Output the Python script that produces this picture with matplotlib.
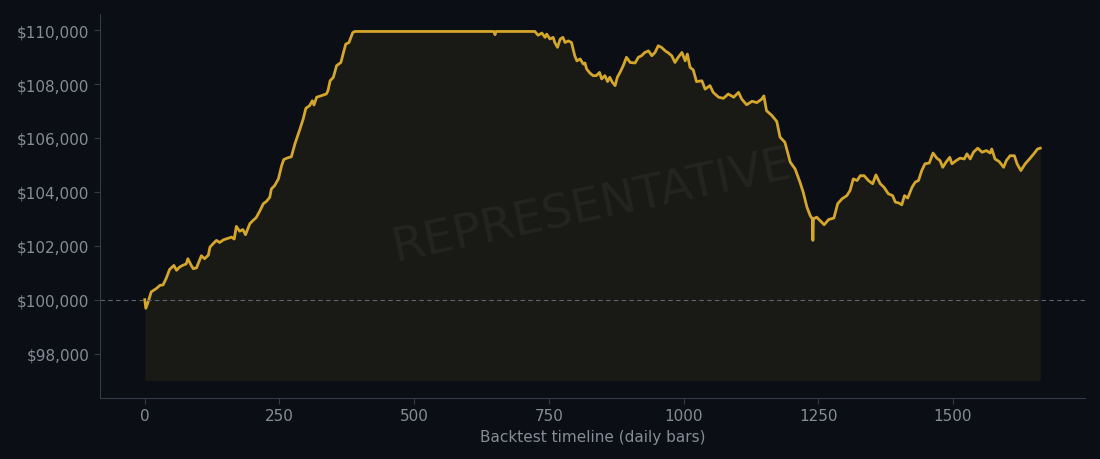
import matplotlib
matplotlib.use("Agg")
import matplotlib.pyplot as plt
from matplotlib.ticker import FuncFormatter

# Bar index (daily bars) and equity values
bars = [0, 2, 6, 12, 22, 28, 34, 40, 46, 54, 59, 64, 69, 77, 80, 86, 90, 96,
        105, 111, 118, 121, 127, 133, 139, 146, 152, 161, 166, 170, 176, 182,
        187, 195, 201, 207, 214, 220, 226, 232, 235, 241, 248, 254, 258, 265,
        272, 279, 288, 294, 299, 306, 311, 314, 319, 328, 337, 340, 344, 350,
        356, 364, 368, 373, 379, 386, 390, 648, 650, 652, 724, 730, 737, 743,
        746, 752, 758, 761, 766, 771, 776, 780, 786, 792, 798, 802, 808, 814,
        817, 820, 826, 832, 838, 844, 848, 854, 859, 863, 868, 873, 877, 882,
        888, 894, 901, 910, 916, 922, 928, 935, 941, 947, 953, 959, 966, 972,
        978, 984, 990, 997, 1003, 1007, 1012, 1018, 1024, 1034, 1040, 1049,
        1055, 1065, 1074, 1083, 1093, 1102, 1108, 1117, 1127, 1136, 1145, 1149,
        1154, 1164, 1173, 1179, 1188, 1198, 1207, 1216, 1222, 1229, 1235, 1239,
        1240, 1241, 1247, 1253, 1261, 1269, 1279, 1286, 1294, 1303, 1309, 1315,
        1322, 1328, 1335, 1343, 1351, 1357, 1365, 1372, 1380, 1388, 1393, 1399,
        1405, 1410, 1416, 1424, 1430, 1436, 1442, 1448, 1456, 1463, 1470, 1476,
        1481, 1487, 1494, 1498, 1506, 1513, 1521, 1526, 1532, 1538, 1546, 1554,
        1562, 1569, 1572, 1578, 1586, 1594, 1599, 1606, 1614, 1619, 1626, 1634,
        1642, 1650, 1657, 1662]

equity = [100000, 99680, 99900, 100290, 100420, 100530, 100550, 100800, 101120,
          101270, 101090, 101200, 101260, 101330, 101520, 101280, 101150, 101180,
          101630, 101520, 101650, 101950, 102080, 102200, 102120, 102220, 102260,
          102320, 102250, 102720, 102540, 102600, 102410, 102820, 102940, 103050,
          103310, 103560, 103650, 103800, 104110, 104230, 104480, 104970, 105200,
          105260, 105300, 105800, 106330, 106700, 107100, 107200, 107380, 107220,
          107510, 107570, 107630, 107750, 108120, 108250, 108680, 108800, 109110,
          109480, 109540, 109910, 109950, 109950, 109830, 109950, 109950, 109810,
          109890, 109730, 109850, 109670, 109730, 109540, 109360, 109670, 109730,
          109540, 109600, 109540, 109050, 108860, 108930, 108740, 108780, 108560,
          108410, 108310, 108310, 108430, 108190, 108310, 108090, 108250, 108060,
          107940, 108250, 108430, 108680, 108990, 108800, 108780, 108990, 109050,
          109170, 109230, 109050, 109170, 109420, 109360, 109230, 109150, 109050,
          108800, 108990, 109170, 108860, 109110, 108620, 108520, 108090, 108120,
          107810, 107940, 107690, 107510, 107470, 107630, 107510, 107690, 107440,
          107230, 107360, 107310, 107440, 107560, 107010, 106830, 106610, 106030,
          105840, 105100, 104850, 104360, 103990, 103430, 103120, 103000, 102200,
          103000, 103060, 102940, 102780, 102970, 103030, 103560, 103740, 103860,
          104050, 104480, 104420, 104600, 104600, 104420, 104300, 104630, 104300,
          104170, 103930, 103860, 103620, 103590, 103520, 103860, 103770, 104170,
          104360, 104420, 104790, 105040, 105070, 105440, 105250, 105160, 104910,
          105100, 105280, 105040, 105160, 105250, 105220, 105410, 105220, 105470,
          105620, 105470, 105530, 105440, 105590, 105220, 105120, 104910, 105160,
          105340, 105340, 105040, 104790, 105040, 105220, 105410, 105590, 105620]

start_capital = 100000
fill_floor = 97000
y_ticks = [98000, 100000, 102000, 104000, 106000, 108000, 110000]
x_ticks = [0, 250, 500, 750, 1000, 1250, 1500]

BG = "#0b0e14"
GOLD = "#d4a62a"
MUTED = "#868c97"
SPINE = "#333b4a"

fig = plt.figure(figsize=(11, 4.6), dpi=100, facecolor=BG)
ax = fig.add_axes([0.0909, 0.1326, 0.8955, 0.8348])
ax.set_facecolor(BG)

ax.fill_between(bars, equity, fill_floor, color=GOLD, alpha=0.075, linewidth=0)
ax.plot(bars, equity, color=GOLD, linewidth=2.0, solid_joinstyle="round")
ax.axhline(start_capital, color="#5f6570", linewidth=0.8, linestyle=(0, (4, 3)))

ax.set_xticks(x_ticks)
ax.set_yticks(y_ticks)
ax.yaxis.set_major_formatter(FuncFormatter(lambda v, p: f"${v:,.0f}"))
ax.tick_params(colors=SPINE, labelcolor=MUTED, labelsize=11, length=4)
ax.set_xlabel("Backtest timeline (daily bars)", color=MUTED, fontsize=11)

for s in ("top", "right"):
    ax.spines[s].set_visible(False)
for s in ("left", "bottom"):
    ax.spines[s].set_color(SPINE)

ax.text(0.5, 0.5, "REPRESENTATIVE", transform=ax.transAxes, ha="center",
        va="center", rotation=12, fontsize=34, color="white", alpha=0.05)

fig.savefig("out.png", facecolor=BG)
